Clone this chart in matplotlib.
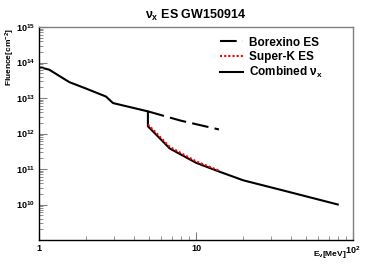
import numpy as np
import matplotlib.pyplot as plt
from matplotlib.ticker import LogLocator, NullFormatter, FixedLocator

plt.rcParams['font.family'] = ['Liberation Sans', 'DejaVu Sans']
plt.rcParams['font.weight'] = 'bold'
plt.rcParams['mathtext.fontset'] = 'custom'
plt.rcParams['mathtext.rm'] = 'Liberation Sans:bold'
plt.rcParams['mathtext.it'] = 'Liberation Sans:bold'
plt.rcParams['mathtext.bf'] = 'Liberation Sans:bold'

# combined nu_x fluence
e_comb = [1.0, 1.16, 1.56, 1.99, 2.67, 2.96, 4.94, 4.94, 6.8, 10.0, 14.0, 20.0, 40.0, 80.0]
f_comb = [7.4e13, 6.3e13, 2.8e13, 1.85e13, 1.1e13, 7.2e12, 4.2e12, 1.6e12, 3.8e11, 1.5e11, 8.5e10, 4.8e10, 2.2e10, 1.0e10]

# Borexino ES
e_bx = [4.94, 8.0, 14.0]
f_bx = [4.2e12, 2.3e12, 1.3e12]

# Super-K ES
e_sk = [4.94, 6.8, 10.0, 14.0]
f_sk = [1.8e12, 4.2e11, 1.65e11, 9.0e10]

fig = plt.figure(figsize=(3.92, 2.67), dpi=100)
ax = fig.add_axes([39/392, 1-240/267, 314/392, 213/267])

ax.plot(e_bx, f_bx, color='black', lw=1.5, ls=(0, (8, 3)), label='Borexino ES')
ax.plot(e_sk, f_sk, color='red', lw=1.5, ls=(0, (1, 1)), label='Super-K ES')
ax.plot(e_comb, f_comb, color='black', lw=1.5, label=r'Combined $\nu_x$', zorder=1)

ax.set_xscale('log')
ax.set_yscale('log')
ax.set_xlim(1, 100)
ax.set_ylim(1e9, 1e15)

ax.xaxis.set_major_locator(FixedLocator([1, 10, 100]))
ax.set_xticklabels(['1', '10', r'$10^2$'])
ax.xaxis.set_minor_locator(LogLocator(base=10, subs=np.arange(2, 10)))
ax.xaxis.set_minor_formatter(NullFormatter())
ax.yaxis.set_major_locator(FixedLocator([1e10, 1e11, 1e12, 1e13, 1e14, 1e15]))
ax.set_yticklabels([r'$10^{10}$', r'$10^{11}$', r'$10^{12}$', r'$10^{13}$', r'$10^{14}$', r'$10^{15}$'])
ax.yaxis.set_minor_locator(LogLocator(base=10, subs=np.arange(2, 10)))
ax.yaxis.set_minor_formatter(NullFormatter())

ax.tick_params(which='both', direction='in', top=False, right=False, labelsize=6.5, pad=3)
ax.tick_params(which='major', length=6, color='gray')
ax.tick_params(which='minor', length=3, color='gray')
for s in ['top', 'right']:
    ax.spines[s].set_color('gray')
for s in ax.spines.values():
    s.set_linewidth(1.0)

ax.set_title(r'$\nu_x$ ES GW150914', fontsize=9, fontweight='bold', pad=6)
fig.text(0.01, 0.895, r'Fluence[cm$^{-2}$]', rotation=90, ha='left', va='top', fontsize=6)
fig.text(0.885, 0.045, r'E$_\nu$[MeV]', ha='right', va='center', fontsize=6)

leg = ax.legend(loc='upper left', bbox_to_anchor=(0.576, 0.955), frameon=False, fontsize=8.5,
                handlelength=2.0, labelspacing=0.2, handletextpad=0.5,
                borderaxespad=0, borderpad=0)

fig.savefig('out.png', dpi=100)
